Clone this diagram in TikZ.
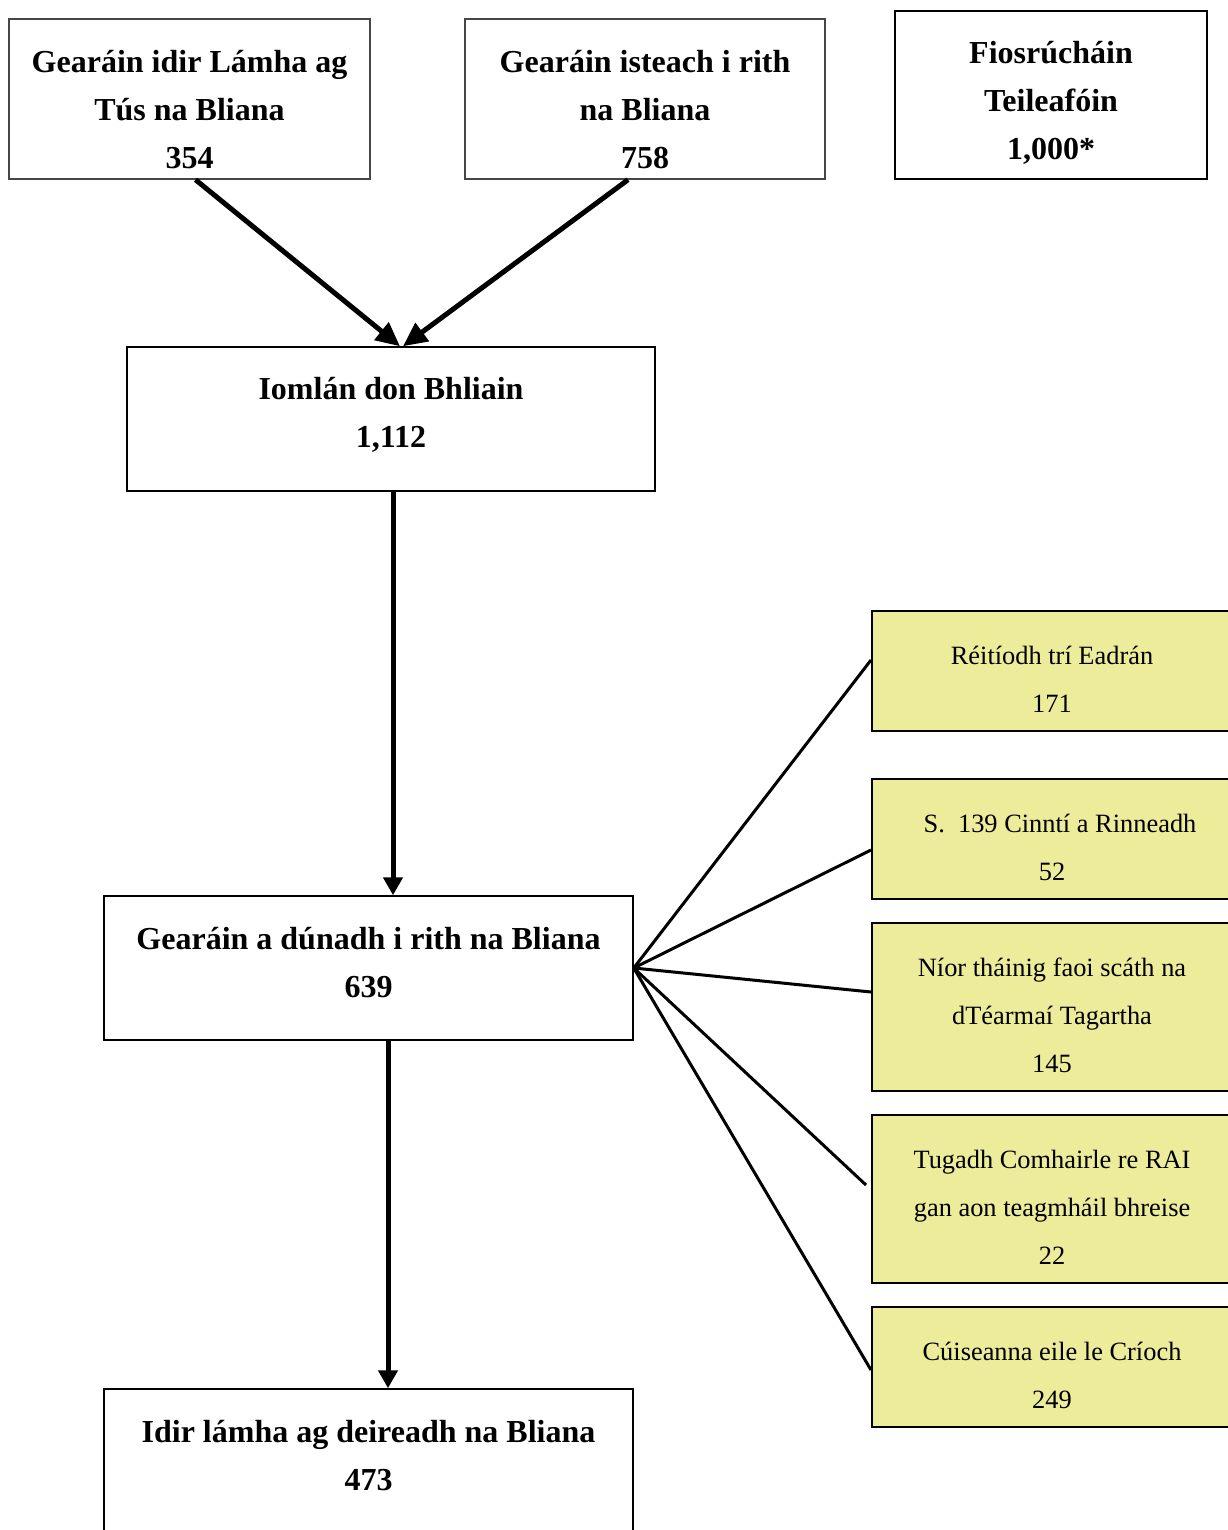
\documentclass[tikz,border=0pt]{standalone}
\usepackage{fontspec}
\setmainfont{Liberation Serif}
\usepackage{tikz}
\usetikzlibrary{positioning}
\usetikzlibrary{arrows.meta}
\usepackage{xcolor}

\definecolor{paleyellow}{RGB}{237,236,155}
\definecolor{boxgray}{RGB}{70,70,70}

\begin{document}
\begin{tikzpicture}[x=0.5pt, y=-0.5pt,
    box/.style={draw, line width=0.75pt, inner sep=0pt},
    graybox/.style={box, draw=boxgray},
    resultbox/.style={box, draw=black, line width=1pt, fill=paleyellow, minimum width=180pt},
    boldtext/.style={align=center, font=\fontsize{16}{24}\selectfont\bfseries},
    plaintext/.style={align=center, font=\fontsize{13.2}{24}\selectfont},
    flow/.style={line width=2.5pt, -{Triangle[length=9pt, width=9.5pt]}},
    bigflow/.style={line width=2.5pt, -{Triangle[length=12pt, width=11pt]}},
    fan/.style={line width=1.5pt}]

\useasboundingbox (0,0) rectangle (1227,1530);

% top row
\node[graybox, minimum width=180.5pt, minimum height=80pt] (start) at (189.5,99) {};
\node[boldtext] (starttext) at (189.5,110) {Gearáin idir Lámha ag\\Tús na Bliana\\354};

\node[graybox, minimum width=180pt, minimum height=80pt] (incoming) at (645,99) {};
\node[boldtext] (incomingtext) at (645,110) {Gearáin isteach i rith\\na Bliana\\758};

\node[box, line width=1pt, minimum width=156pt, minimum height=84pt] (phone) at (1051,95) {};
\node[boldtext] (phonetext) at (1051,103) {Fiosrúcháin\\Teileafóin\\1,000*};

% middle column
\node[box, minimum width=264pt, minimum height=72pt] (total) at (391,419) {};
\node[boldtext] (totaltext) at (391,415) {Iomlán don Bhliain\\1,112};

\node[box, minimum width=264.5pt, minimum height=72pt] (closed) at (368.5,968) {};
\node[boldtext] (closedtext) at (368.5,963) {Gearáin a dúnadh i rith na Bliana\\639};

\node[box, minimum width=264.5pt, minimum height=72pt] (open) at (368.5,1461) {};
\node[boldtext] (opentext) at (368.5,1456) {Idir lámha ag deireadh na Bliana\\473};

% outcomes
\node[resultbox, minimum height=60pt] (arb) at (1052,671) {};
\node[plaintext] at (1052,679) {Réitíodh trí Eadrán\\171};

\node[resultbox, minimum height=60pt] (sec) at (1052,839) {};
\node[plaintext] at (1060,847) {S.\ \ 139 Cinntí a Rinneadh\\52\hspace*{8pt}};

\node[resultbox, minimum height=84pt] (terms) at (1052,1007) {};
\node[plaintext] at (1052,1015) {Níor tháinig faoi scáth na\\dTéarmaí Tagartha\\145};

\node[resultbox, minimum height=84pt] (advice) at (1052,1199) {};
\node[plaintext] at (1052,1207) {Tugadh Comhairle re RAI\\gan aon teagmháil bhreise\\22};

\node[resultbox, minimum height=60pt] (other) at (1052,1367) {};
\node[plaintext] at (1052,1375) {Cúiseanna eile le Críoch\\249};

% arrows
\draw[bigflow] ([xshift=3pt]start.south) -- ([xshift=4.5pt]total.north);
\draw[bigflow] ([xshift=-8.5pt]incoming.south) -- ([xshift=6pt]total.north);
\draw[flow] ([xshift=1pt]total.south) -- ([xshift=1pt]total.south |- closed.north);
\draw[flow] ([xshift=9.75pt]closed.south) -- ([xshift=9.75pt]closed.south |- open.north);

\draw[fan] (closed.east) -- ([yshift=5.5pt]arb.west);
\draw[fan] (closed.east) -- ([yshift=-5.5pt]sec.west);
\draw[fan] (closed.east) -- ([yshift=7.5pt]terms.west);
\draw[fan] (closed.east) -- ([xshift=-2.5pt, yshift=7pt]advice.west);
\draw[fan] (closed.east) -- ([yshift=-1.5pt]other.west);

\end{tikzpicture}
\end{document}
